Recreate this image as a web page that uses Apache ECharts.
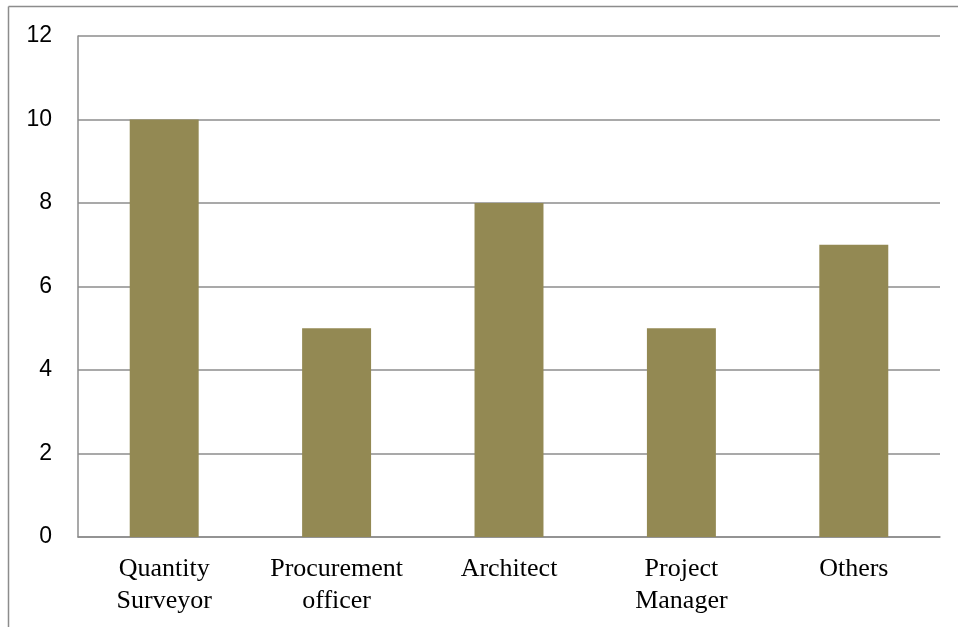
<!DOCTYPE html>
<html>
<head>
<meta charset="utf-8">
<script src="https://cdn.jsdelivr.net/npm/echarts@6/dist/echarts.min.js"></script>
<style>
html,body{margin:0;padding:0;background:#fff;}
#c{width:958px;height:627px;}
</style>
</head>
<body>
<div id="c"></div>
<script>
const categories = ["Quantity\nSurveyor", "Procurement\nofficer", "Architect", "Project\nManager", "Others"];
const values = [10, 5, 8, 5, 7];
const yTicks = { min: 0, max: 12, interval: 2 };

const chart = echarts.init(document.getElementById('c'), null, { renderer: 'canvas' });
chart.setOption({
  animation: false,
  backgroundColor: '#ffffff',
  graphic: [
    { type: 'line', shape: { x1: 8.5, y1: 6.5, x2: 958, y2: 6.5 }, style: { stroke: '#8c8c8c', lineWidth: 1.5 }, silent: true },
    { type: 'line', shape: { x1: 8.5, y1: 6.5, x2: 8.5, y2: 627 }, style: { stroke: '#8c8c8c', lineWidth: 1.5 }, silent: true }
  ],
  grid: { left: 78, right: 18, top: 36, bottom: 90, containLabel: false },
  xAxis: {
    type: 'category',
    data: categories,
    axisLine: { show: true, lineStyle: { color: '#8c8c8c', width: 1.5 } },
    axisTick: { show: false },
    axisLabel: {
      color: '#000',
      fontFamily: 'Liberation Serif',
      fontSize: 26,
      lineHeight: 32,
      margin: 16,
      interval: 0
    }
  },
  yAxis: {
    type: 'value',
    min: yTicks.min,
    max: yTicks.max,
    interval: yTicks.interval,
    axisLine: { show: true, lineStyle: { color: '#8c8c8c', width: 1.5 } },
    axisTick: { show: false },
    splitLine: { show: true, lineStyle: { color: '#8c8c8c', width: 1.5 } },
    axisLabel: {
      color: '#000',
      fontFamily: 'Liberation Sans',
      fontSize: 23,
      margin: 26
    }
  },
  series: [{
    type: 'bar',
    data: values,
    barWidth: '40%',
    itemStyle: { color: '#938953' }
  }]
});
</script>
</body>
</html>
